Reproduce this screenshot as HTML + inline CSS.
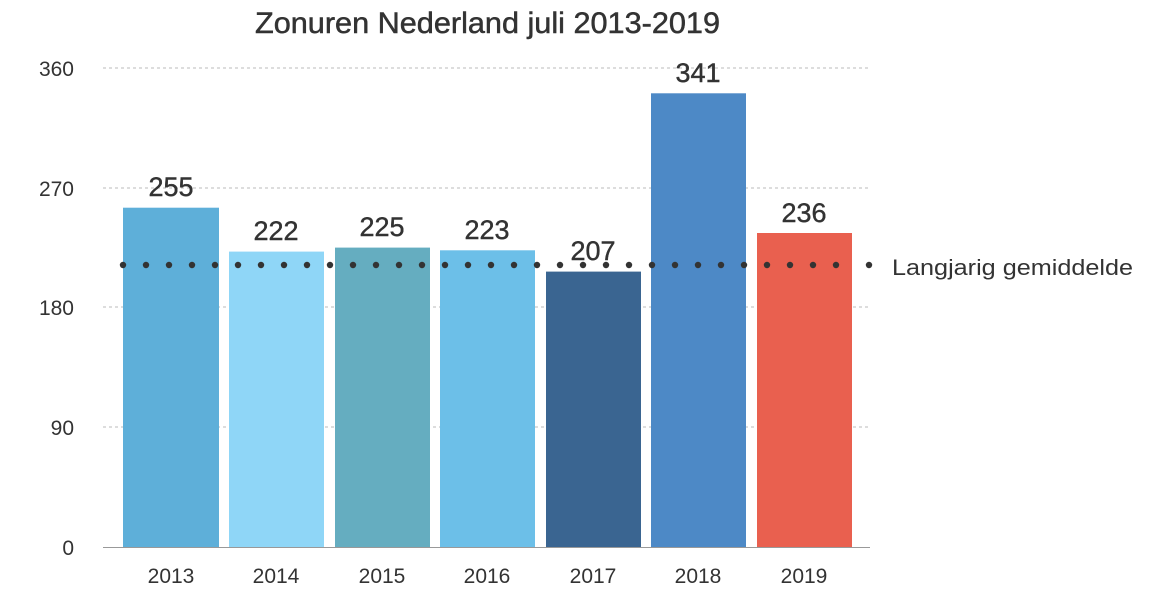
<!DOCTYPE html>
<html><head><meta charset="utf-8"><style>
html,body{margin:0;padding:0;background:#fff;}
svg{display:block;font-family:"Liberation Sans",sans-serif;}
</style></head><body>
<svg width="1162" height="590" viewBox="0 0 1162 590">
<text x="255" y="33" font-size="30" fill="#333" stroke="#333" stroke-width="0.5" textLength="465" lengthAdjust="spacingAndGlyphs">Zonuren Nederland juli 2013-2019</text>
<g stroke="#bbb" stroke-dasharray="3,3" stroke-width="1">
<line x1="103" y1="68" x2="870" y2="68"/>
<line x1="103" y1="188" x2="870" y2="188"/>
<line x1="103" y1="307" x2="870" y2="307"/>
<line x1="103" y1="427" x2="870" y2="427"/>
</g>
<g font-size="21" fill="#333" text-anchor="end">
<text x="74" y="76">360</text>
<text x="74" y="196">270</text>
<text x="74" y="315">180</text>
<text x="74" y="435">90</text>
<text x="74" y="555">0</text>
</g>
<rect x="123" y="207.7" width="96" height="339.3" fill="#5eafd9"/>
<rect x="229" y="251.6" width="95" height="295.4" fill="#8fd6f7"/>
<rect x="335" y="247.6" width="95" height="299.4" fill="#65adc0"/>
<rect x="440" y="250.3" width="95" height="296.7" fill="#6cbfe8"/>
<rect x="546" y="271.6" width="95" height="275.4" fill="#3a6591"/>
<rect x="651" y="93.3" width="95" height="453.7" fill="#4d89c6"/>
<rect x="757" y="233" width="95" height="314" fill="#e9604f"/>
<line x1="103" y1="547.5" x2="870" y2="547.5" stroke="#999" stroke-width="1"/>
<g font-size="27" fill="#333" stroke="#333" stroke-width="0.4" text-anchor="middle">
<text x="171" y="196">255</text>
<text x="276" y="240">222</text>
<text x="382" y="236">225</text>
<text x="487" y="239">223</text>
<text x="593" y="260">207</text>
<text x="698" y="82">341</text>
<text x="804" y="222">236</text>
</g>
<g fill="#333">
<circle cx="123" cy="265" r="3.2"/><circle cx="146" cy="265" r="3.2"/><circle cx="169" cy="265" r="3.2"/><circle cx="192" cy="265" r="3.2"/><circle cx="215" cy="265" r="3.2"/><circle cx="238" cy="265" r="3.2"/><circle cx="261" cy="265" r="3.2"/><circle cx="284" cy="265" r="3.2"/><circle cx="307" cy="265" r="3.2"/><circle cx="330" cy="265" r="3.2"/><circle cx="353" cy="265" r="3.2"/><circle cx="376" cy="265" r="3.2"/><circle cx="399" cy="265" r="3.2"/><circle cx="422" cy="265" r="3.2"/><circle cx="445" cy="265" r="3.2"/><circle cx="468" cy="265" r="3.2"/><circle cx="491" cy="265" r="3.2"/><circle cx="514" cy="265" r="3.2"/><circle cx="537" cy="265" r="3.2"/><circle cx="560" cy="265" r="3.2"/><circle cx="583" cy="265" r="3.2"/><circle cx="606" cy="265" r="3.2"/><circle cx="629" cy="265" r="3.2"/><circle cx="652" cy="265" r="3.2"/><circle cx="675" cy="265" r="3.2"/><circle cx="698" cy="265" r="3.2"/><circle cx="721" cy="265" r="3.2"/><circle cx="744" cy="265" r="3.2"/><circle cx="767" cy="265" r="3.2"/><circle cx="790" cy="265" r="3.2"/><circle cx="813" cy="265" r="3.2"/><circle cx="836" cy="265" r="3.2"/><circle cx="869" cy="265" r="3.2"/>
</g>
<text x="892" y="275" font-size="22" fill="#333" textLength="241" lengthAdjust="spacingAndGlyphs">Langjarig gemiddelde</text>
<g font-size="21" fill="#333" text-anchor="middle">
<text x="171" y="583">2013</text>
<text x="276" y="583">2014</text>
<text x="382" y="583">2015</text>
<text x="487" y="583">2016</text>
<text x="593" y="583">2017</text>
<text x="698" y="583">2018</text>
<text x="804" y="583">2019</text>
</g>
</svg>
</body></html>
